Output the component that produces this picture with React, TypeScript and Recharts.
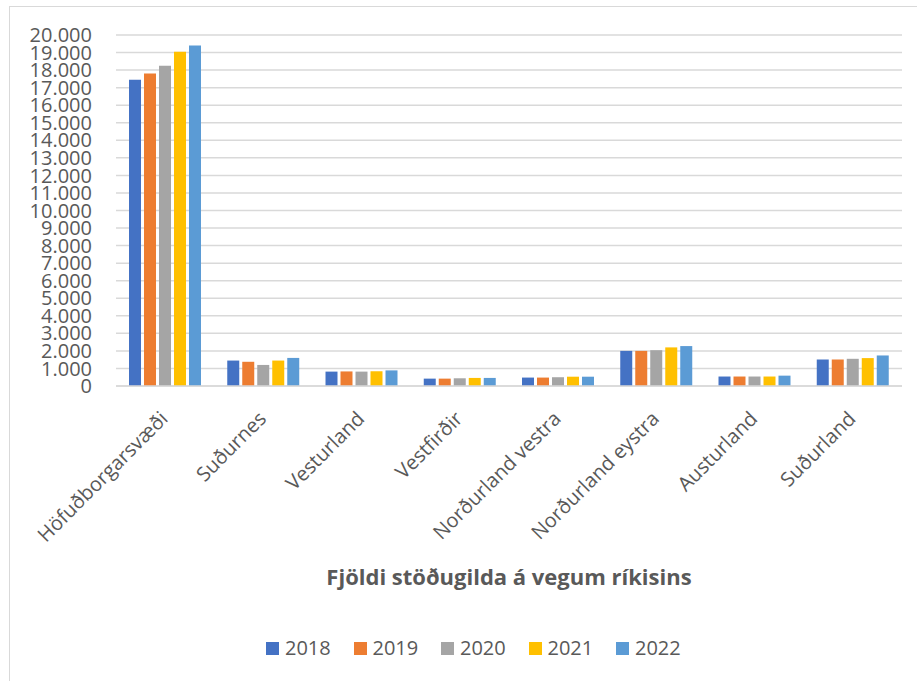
import React from 'react';
import { BarChart, Bar, XAxis, YAxis, CartesianGrid, Legend, Label } from 'recharts';

const regions = [
  'Höfuðborgarsvæði',
  'Suðurnes',
  'Vesturland',
  'Vestfirðir',
  'Norðurland vestra',
  'Norðurland eystra',
  'Austurland',
  'Suðurland',
];
const v2018 = [17450, 1450, 820, 420, 480, 2000, 540, 1510];
const v2019 = [17800, 1380, 830, 420, 480, 2000, 540, 1510];
const v2020 = [18250, 1200, 820, 440, 500, 2040, 540, 1550];
const v2021 = [19050, 1450, 840, 460, 530, 2200, 540, 1590];
const v2022 = [19400, 1600, 890, 460, 530, 2275, 590, 1740];
const years = ['2018', '2019', '2020', '2021', '2022'];
const colors = ['#4472C4', '#ED7D31', '#A5A5A5', '#FFC000', '#5B9BD5'];
const yTicks = [0, 1000, 2000, 3000, 4000, 5000, 6000, 7000, 8000, 9000, 10000, 11000, 12000, 13000, 14000, 15000, 16000, 17000, 18000, 19000, 20000];
const title = 'Fjöldi stöðugilda á vegum ríkisins';

const series = [v2018, v2019, v2020, v2021, v2022];
const data = regions.map((r, i) => {
  const row: Record<string, any> = { name: r };
  years.forEach((y, k) => {
    row[y] = series[k][i];
  });
  return row;
});

const FONT = '"Open Sans", "Segoe UI", sans-serif';
const TXT = '#595959';

const fmt = (v: number) => String(v).replace(/\B(?=(\d{3})+(?!\d))/g, '.');

const XTick = (props: any) => {
  const { x, y, payload } = props;
  const ax = x + 4;
  const ay = y + 26;
  return (
    <text
      x={ax}
      y={ay}
      textAnchor="end"
      fill={TXT}
      fontSize={20}
      fontFamily={FONT}
      transform={`rotate(-45, ${ax}, ${ay})`}
    >
      {payload.value}
    </text>
  );
};

const LegendContent = () => (
  <div style={{ display: 'flex', paddingLeft: 266, height: 24, alignItems: 'center' }}>
    {years.map((y, i) => (
      <div key={y} style={{ display: 'flex', alignItems: 'center', width: 87.5 }}>
        <span style={{ display: 'inline-block', width: 13, height: 13, background: colors[i], marginRight: 6 }} />
        <span style={{ fontFamily: FONT, fontSize: 20, color: TXT, lineHeight: '24px' }}>{y}</span>
      </div>
    ))}
  </div>
);

export default function App() {
  return (
    <div style={{ position: 'absolute', left: 0, top: 0, width: 917, height: 681, overflow: 'hidden', background: '#fff' }}>
      <div style={{ position: 'absolute', left: 9, top: 6, width: 940, height: 700, border: '1px solid #d9d9d9', boxSizing: 'border-box' }} />
      <div style={{ position: 'absolute', left: 0, top: 0 }}>
        <BarChart
          width={917}
          height={681}
          data={data}
          margin={{ top: 35, right: 15, bottom: 0, left: 0 }}
          barCategoryGap={13}
          barGap={3}
        >
          <CartesianGrid vertical={false} stroke="#d9d9d9" strokeWidth={1.5} />
          <XAxis
            dataKey="name"
            interval={0}
            tick={<XTick />}
            tickLine={false}
            axisLine={{ stroke: '#d9d9d9', strokeWidth: 1.5 }}
            height={271}
          >
            <Label
              value={title}
              position="insideBottom"
              offset={72}
              fill={TXT}
              fontSize={22}
              fontWeight="bold"
              fontFamily={FONT}
            />
          </XAxis>
          <YAxis
            domain={[0, 20000]}
            ticks={yTicks}
            interval={0}
            tickFormatter={fmt}
            axisLine={false}
            tickLine={false}
            width={116}
            tickMargin={18}
            tick={{ fill: TXT, fontSize: 20, fontFamily: FONT }}
          />
          <Legend
            verticalAlign="bottom"
            content={<LegendContent />}
            wrapperStyle={{ left: 0, width: 917, height: 24, bottom: 21 }}
          />
          {years.map((y, i) => (
            <Bar key={y} dataKey={y} fill={colors[i]} isAnimationActive={false} />
          ))}
        </BarChart>
      </div>
    </div>
  );
}
